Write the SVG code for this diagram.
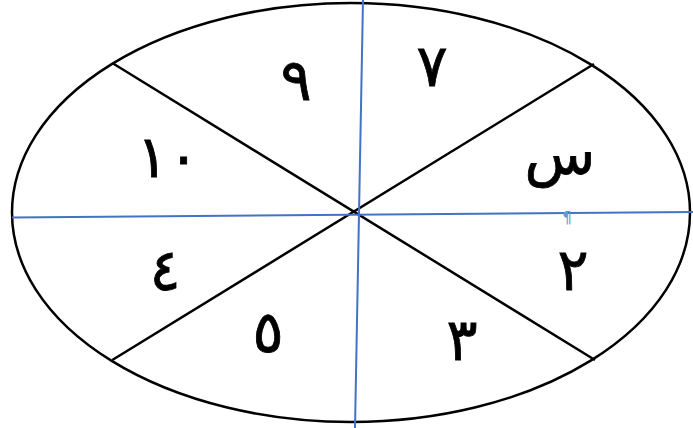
<svg xmlns="http://www.w3.org/2000/svg" width="693" height="428" viewBox="0 0 693 428">
<style>
.lbl{font-family:"DejaVu Sans",sans-serif;font-size:58px;fill:#000;stroke:#000;stroke-width:0.8;text-anchor:middle}
.blk{stroke:#000;stroke-width:2.5;fill:none}
.blu{stroke:#4472c4;stroke-width:2;fill:none}
</style>
<rect width="693" height="428" fill="#fff"/>
<g id="connectors">
<ellipse class="blk" cx="351" cy="212.5" rx="339" ry="209.5"/>
<line class="blk" x1="112.7" y1="63.3" x2="595" y2="360"/>
<line class="blk" x1="594" y1="64" x2="112.3" y2="360"/>
<line class="blu" x1="363" y1="0" x2="355" y2="428"/>
<line class="blu" x1="12" y1="217.5" x2="693" y2="212"/>
</g>
<g id="n9"><text class="lbl" x="296" y="100">٩</text></g>
<g id="n7"><text class="lbl" x="432" y="86">٧</text></g>
<g id="nsin"><text class="lbl" x="560" y="174">س</text></g>
<g id="n2"><text class="lbl" x="573" y="290">٢</text></g>
<g id="n3"><text class="lbl" x="462" y="360">٣</text></g>
<g id="n5"><text class="lbl" x="268" y="352" font-size="50">٥</text></g>
<g id="n4"><text class="lbl" x="165" y="290">٤</text></g>
<g id="n10"><text class="lbl" x="168" y="177" style="letter-spacing:14px">١٠</text></g>
<g id="pil"><text x="567" y="223" font-family="DejaVu Sans,sans-serif" font-size="15" fill="#5b9bd5" text-anchor="middle">¶</text></g>
</svg>
